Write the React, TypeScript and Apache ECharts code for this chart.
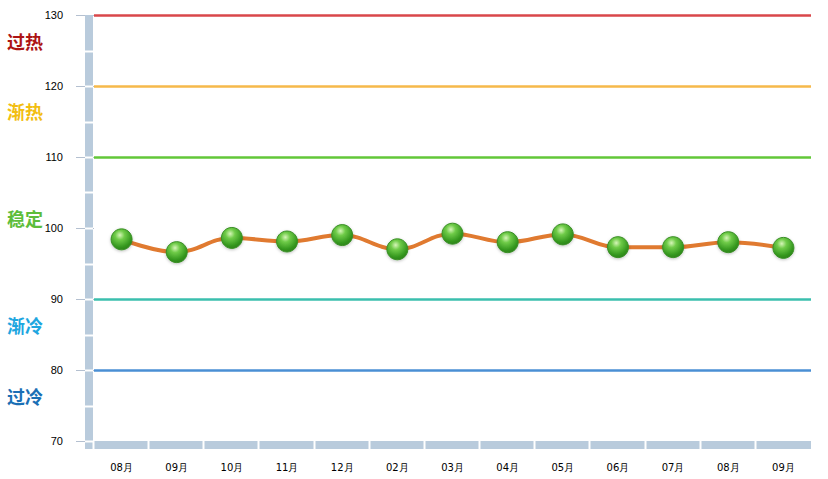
import React, { useEffect, useRef } from "react";
import * as echarts from "echarts";

const categories = ["08月", "09月", "10月", "11月", "12月", "02月", "03月", "04月", "05月", "06月", "07月", "08月", "09月"];
const values = [98.4, 96.6, 98.6, 98.1, 99.0, 97.0, 99.2, 98.0, 99.1, 97.3, 97.3, 98.0, 97.2];
const thresholdValues = [130, 120, 110, 90, 80];
const thresholdColors = ["#d9474a", "#f6b94a", "#62c738", "#3bbfae", "#4a8fd4"];
const zoneLabels = ["过热", "渐热", "稳定", "渐冷", "过冷"];
const zoneColors = ["#ad1414", "#f2be12", "#5dbd3a", "#1ea6df", "#1a6fb5"];
const zoneLabelY = [41, 111, 218, 325, 396];
const yMin = 70;
const yMax = 130;
const yStep = 10;

export default function App() {
  const ref = useRef<HTMLDivElement>(null);
  useEffect(() => {
    document.body.style.margin = "0";
    const chart = echarts.init(ref.current!, null, { renderer: "svg" });
    chart.setOption({
      animation: false,
      backgroundColor: "#ffffff",
      grid: { left: 94, right: 17, top: 15, bottom: 38 },
      xAxis: {
        type: "category",
        data: categories,
        boundaryGap: true,
        axisLine: { show: false },
        axisTick: { show: false },
        axisLabel: { margin: 21, fontSize: 10, color: "#000", fontFamily: "DejaVu Sans" },
        splitLine: { show: false },
      },
      yAxis: {
        type: "value",
        min: yMin,
        max: yMax,
        interval: yStep,
        axisLine: { show: false },
        axisTick: { show: true, length: 18, lineStyle: { color: "#b4c0d0", width: 1 } },
        axisLabel: { margin: 31, fontSize: 11, color: "#000", fontFamily: "Arial, Liberation Sans" },
        splitLine: { show: false },
      },
      series: [
        {
          type: "line",
          data: values,
          smooth: 0.4,
          z: 5,
          lineStyle: { color: "#e07a30", width: 4 },
          symbol: "circle",
          symbolSize: 21,
          itemStyle: {
            color: new echarts.graphic.RadialGradient(0.42, 0.3, 0.75, [
              { offset: 0, color: "#d6f5b8" },
              { offset: 0.3, color: "#6fcb48" },
              { offset: 0.75, color: "#35981f" },
              { offset: 1, color: "#2a7d18" },
            ]),
            borderColor: "#3a8f26",
            borderWidth: 1,
            shadowColor: "rgba(0,0,0,0.25)",
            shadowBlur: 3,
            shadowOffsetY: 1,
          },
          markLine: {
            silent: true,
            symbol: ["none", "none"],
            label: { show: false },
            z: 3,
            data: thresholdValues.map((v, i) => ({
              yAxis: v,
              lineStyle: { color: thresholdColors[i], width: 2.5, type: "solid" },
            })),
          },
        },
      ],
    });

    const px = (i: number) => chart.convertToPixel({ xAxisIndex: 0 }, i) as number;
    const py = (v: number) => chart.convertToPixel({ yAxisIndex: 0 }, v) as number;
    const bw = px(1) - px(0);
    const left = px(0) - bw / 2;
    const right = px(categories.length - 1) + bw / 2;
    const yTop = py(yMax);
    const yBot = py(yMin);
    const wallColor = "#b9cbdc";
    const elements: any[] = [];
    elements.push({
      type: "rect",
      z: 10,
      shape: { x: left - 9, y: yTop, width: 8, height: yBot - yTop + 8 },
      style: { fill: wallColor },
    });
    elements.push({
      type: "rect",
      z: 10,
      shape: { x: left - 9, y: yBot, width: right - left + 9, height: 8 },
      style: { fill: wallColor },
    });
    for (let v = yMax - yStep / 2; v >= yMin; v -= yStep / 2) {
      const y = Math.round(py(v)) + 0.5;
      elements.push({
        type: "line",
        z: 11,
        shape: { x1: left - 9, y1: y, x2: left - 1, y2: y },
        style: { stroke: "#ffffff", lineWidth: 2 },
      });
    }
    for (let k = 0; k < categories.length; k++) {
      const x = Math.round(left + k * bw) - 0.5;
      elements.push({
        type: "line",
        z: 11,
        shape: { x1: x, y1: yBot, x2: x, y2: yBot + 8 },
        style: { stroke: "#ffffff", lineWidth: 2 },
      });
    }
    zoneLabels.forEach((t, i) => {
      elements.push({
        type: "text",
        z: 12,
        x: 7,
        y: zoneLabelY[i],
        style: {
          text: t,
          fill: zoneColors[i],
          font: "bold 18px 'Noto Sans CJK SC'",
          verticalAlign: "middle",
          align: "left",
        },
      });
    });
    chart.setOption({ graphic: { elements } });

    return () => chart.dispose();
  }, []);
  return <div ref={ref} style={{ width: 828, height: 479 }} />;
}
